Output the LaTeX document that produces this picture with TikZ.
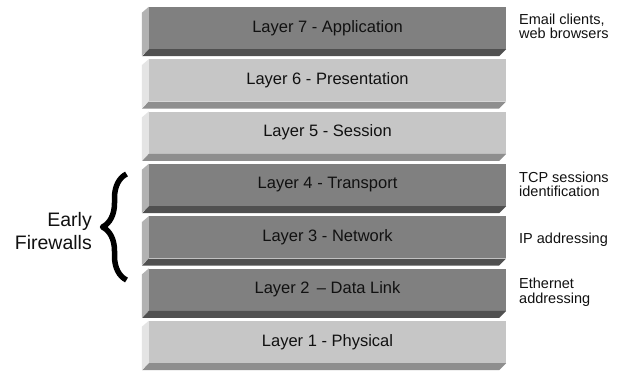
\documentclass[tikz,border=0pt]{standalone}
\usepackage{fontspec}
\setmainfont{Liberation Sans}
\usetikzlibrary{decorations.pathreplacing}
\definecolor{dkfront}{HTML}{808080}
\definecolor{dkside}{HTML}{B2B2B2}
\definecolor{dkbot}{HTML}{505050}
\definecolor{ltfront}{HTML}{C6C6C6}
\definecolor{ltside}{HTML}{E4E4E4}
\definecolor{ltbot}{HTML}{8E8E8E}
\definecolor{txtcol}{HTML}{111111}
\tikzset{
  layerface/.style={minimum width=357pt, minimum height=42pt, inner sep=0pt,
    text=txtcol, font=\fontsize{16.5}{18}\selectfont},
  sidelabel/.style={anchor=north west, inner sep=0pt, align=left, text=txtcol},
  bracestyle/.style={decorate, decoration={brace, amplitude=24pt}, line width=5.5pt, line join=round}
}
\begin{document}
\begin{tikzpicture}[x=1pt,y=-1pt]
\useasboundingbox[fill=white] (0,0) rectangle (618,373);
\foreach \k/\nm/\fr/\sd/\bt/\txt in {
  0/L7/dkfront/dkside/dkbot/{Layer 7 - Application},
  1/L6/ltfront/ltside/ltbot/{Layer 6 - Presentation},
  2/L5/ltfront/ltside/ltbot/{Layer 5 - Session},
  3/L4/dkfront/dkside/dkbot/{Layer 4 - Transport},
  4/L3/dkfront/dkside/dkbot/{Layer 3 - Network},
  5/L2/dkfront/dkside/dkbot/{Layer 2 \,– Data Link},
  6/L1/ltfront/ltside/ltbot/{Layer 1 - Physical}}
{
  \node[layerface, fill=\fr] (\nm) at (327.5, {7+52.333*\k+21}) {\txt};
  \fill[\sd] (\nm.north west) -- ++(-7,6) -- ++(0,43) -- (\nm.south west) -- cycle;
  \fill[\bt] (\nm.south west) -- (\nm.south east) -- ++(-7,7) -- ++(-357,0) -- cycle;
}
\node[sidelabel, font=\fontsize{14.5}{14}\selectfont] (app) at (519,13.5) {Email clients,\\web browsers};
\node[sidelabel, font=\fontsize{14.5}{14.5}\selectfont] (tcp) at (519,171.3) {TCP sessions\\identification};
\node[sidelabel, font=\fontsize{14.5}{14.5}\selectfont] (ip) at (519,232.9) {IP addressing};
\node[sidelabel, font=\fontsize{14.5}{15}\selectfont] (eth) at (519,277.6) {Ethernet\\addressing};
\node[anchor=north east, inner sep=0pt, align=right, text=txtcol,
  font=\fontsize{19.5}{23}\selectfont] (early) at (92,212) {Early\\Firewalls};
\coordinate (bt) at (126.5,174);
\coordinate (bb) at (126.5,280);
\draw[bracestyle] (bb) -- (bt);
\end{tikzpicture}
\end{document}
